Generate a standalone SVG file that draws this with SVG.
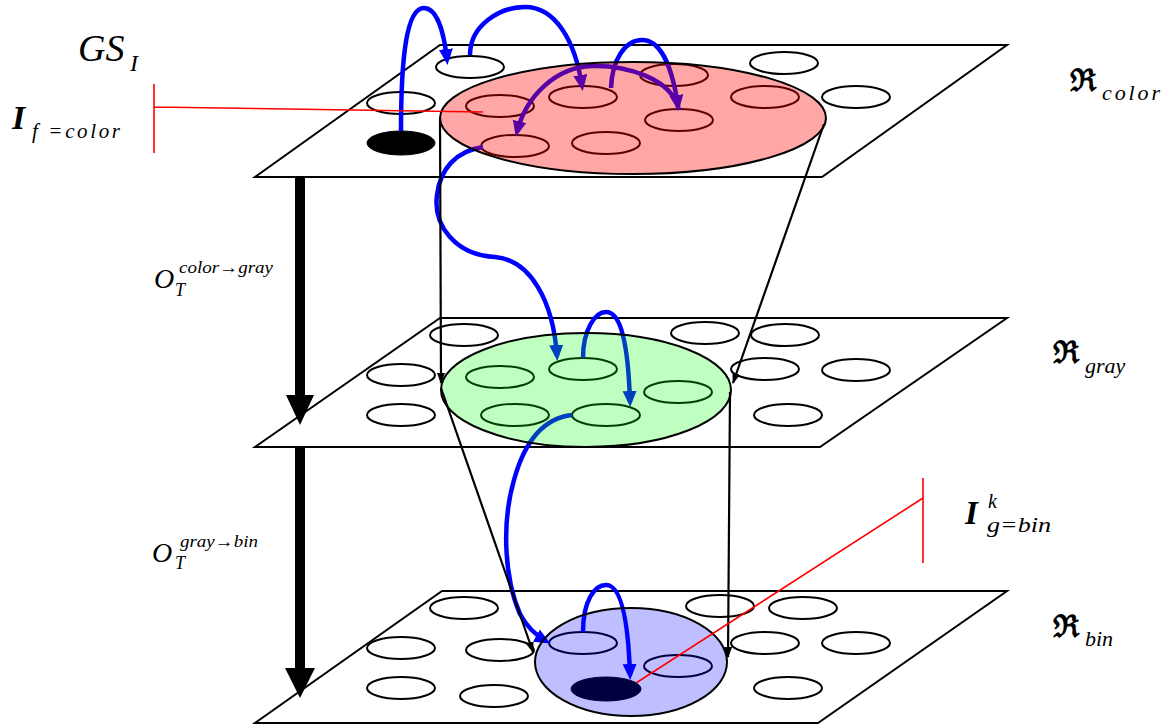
<svg xmlns="http://www.w3.org/2000/svg" width="1171" height="726" viewBox="0 0 1171 726">
  <style>
    .plane { fill: #fff; stroke: #000; stroke-width: 2; stroke-linejoin: miter; }
    .cell { fill: #fff; stroke: #000; stroke-width: 2; }
    .seed { fill: #000; stroke: #000; stroke-width: 1; }
    .flow { fill: none; stroke: #00f; stroke-width: 4.5; marker-end: url(#blueHead); }
    .region { stroke: #000; stroke-width: 2; }
    .r-color { fill: #f00; fill-opacity: 0.35; }
    .r-gray { fill: #0f0; fill-opacity: 0.25; }
    .r-bin { fill: #00f; fill-opacity: 0.25; }
    .cone { fill: none; stroke: #000; stroke-width: 2.2; marker-end: url(#blackHead); }
    .probe { fill: none; stroke: #f00; stroke-width: 1.6; }
    .op { fill: #000; stroke: none; }
    .t { font-family: "Liberation Serif", "Times New Roman", serif; font-style: italic; fill: #000; }
    .tb { font-family: "Liberation Serif", "Times New Roman", serif; font-style: italic; font-weight: bold; fill: #000; }
    .frak { font-family: "DejaVu Serif", "Liberation Serif", serif; font-weight: bold; fill: #000; }
  </style>
  <defs>
    <marker id="blueHead" markerUnits="userSpaceOnUse" markerWidth="18" markerHeight="16" refX="11" refY="7" orient="auto">
      <path d="M0,0 L16,7 L0,14 z" fill="#00f"/>
    </marker>
    <marker id="blackHead" markerUnits="userSpaceOnUse" markerWidth="12" markerHeight="10" refX="10" refY="4" orient="auto">
      <path d="M0,0 L11,4 L0,8 z" fill="#000"/>
    </marker>
  </defs>

  <!-- colour layer -->
  <g id="layer-color">
    <polygon class="plane" points="440,45 1007,45 822,177 255,177"/>
    <ellipse class="cell" cx="470" cy="67" rx="34" ry="11"/>
    <ellipse class="cell" cx="401" cy="103" rx="34" ry="11"/>
    <ellipse class="seed" cx="401" cy="143" rx="34" ry="12"/>
    <ellipse class="cell" cx="784" cy="63" rx="34" ry="11"/>
    <ellipse class="cell" cx="856" cy="97" rx="34" ry="11"/>
    <ellipse class="cell" cx="500" cy="106" rx="34" ry="11"/>
    <ellipse class="cell" cx="583" cy="97" rx="34" ry="11"/>
    <ellipse class="cell" cx="674" cy="75" rx="34" ry="11"/>
    <ellipse class="cell" cx="765" cy="97" rx="34" ry="11"/>
    <ellipse class="cell" cx="679" cy="120" rx="34" ry="11"/>
    <ellipse class="cell" cx="515" cy="146" rx="34" ry="11"/>
    <ellipse class="cell" cx="606" cy="143" rx="34" ry="11"/>
  </g>

  <!-- gray layer -->
  <g id="layer-gray">
    <polygon class="plane" points="440,318 1007,318 820,447 255,447"/>
    <ellipse class="cell" cx="464" cy="335" rx="34" ry="11"/>
    <ellipse class="cell" cx="401" cy="375" rx="34" ry="11"/>
    <ellipse class="cell" cx="401" cy="415" rx="34" ry="11"/>
    <ellipse class="cell" cx="705" cy="333" rx="34" ry="11"/>
    <ellipse class="cell" cx="785" cy="335" rx="34" ry="11"/>
    <ellipse class="cell" cx="765" cy="369" rx="34" ry="11"/>
    <ellipse class="cell" cx="856" cy="370" rx="34" ry="11"/>
    <ellipse class="cell" cx="788" cy="415" rx="34" ry="11"/>
    <ellipse class="cell" cx="500" cy="377" rx="34" ry="11"/>
    <ellipse class="cell" cx="583" cy="369" rx="34" ry="11"/>
    <ellipse class="cell" cx="678" cy="392" rx="34" ry="11"/>
    <ellipse class="cell" cx="515" cy="415" rx="34" ry="11"/>
    <ellipse class="cell" cx="606" cy="415" rx="34" ry="11"/>
  </g>

  <!-- binary layer -->
  <g id="layer-bin">
    <polygon class="plane" points="442,591 1007,591 818,723 255,723"/>
    <ellipse class="cell" cx="464" cy="608" rx="34" ry="11"/>
    <ellipse class="cell" cx="401" cy="648" rx="34" ry="11"/>
    <ellipse class="cell" cx="401" cy="688" rx="34" ry="11"/>
    <ellipse class="cell" cx="500" cy="650" rx="34" ry="11"/>
    <ellipse class="cell" cx="494" cy="696" rx="34" ry="11"/>
    <ellipse class="cell" cx="720" cy="606" rx="34" ry="11"/>
    <ellipse class="cell" cx="803" cy="608" rx="34" ry="11"/>
    <ellipse class="cell" cx="765" cy="643" rx="34" ry="11"/>
    <ellipse class="cell" cx="856" cy="643" rx="34" ry="11"/>
    <ellipse class="cell" cx="788" cy="688" rx="34" ry="11"/>
    <ellipse class="cell" cx="583" cy="643" rx="34" ry="11"/>
    <ellipse class="cell" cx="678" cy="666" rx="34" ry="11"/>
    <ellipse class="seed" cx="606" cy="689" rx="35" ry="12"/>
  </g>

  <!-- traversal arrows between cells -->
  <g id="connectors">
    <path class="flow" d="M401,131 C401,60 406,8 424,8 C437,8 444,32 447,60"/>
    <path class="flow" d="M470,55 C470,25 500,7 525,7 C555,7 575,40 582,86"/>
    <path class="flow" d="M611,88 C612,60 625,40 642,40 C660,40 672,65 678,106"/>
    <path class="flow" d="M679,110 C672,78 625,65 592,66 C556,67 526,96 517,132"/>
    <path class="flow" d="M483,147 C455,151 440,170 437,195 C433,225 455,255 495,257 C530,260 553,300 557,356"/>
    <path class="flow" d="M583,358 C583,330 595,312 606,312 C620,312 628,340 630,402"/>
    <path class="flow" d="M572,415 C545,418 525,440 514,480 C501,525 505,580 520,614 C528,629 537,636 546,641"/>
    <path class="flow" d="M583,632 C583,600 595,585 606,585 C620,585 628,615 630,675"/>
  </g>

  <!-- selected regions, translucent over the cells -->
  <g id="region-color">
    <ellipse class="region r-color" cx="633" cy="118" rx="193" ry="56"/>
  </g>
  <g id="region-gray">
    <ellipse class="region r-gray" cx="586" cy="390" rx="145" ry="57"/>
  </g>
  <g id="region-bin">
    <ellipse class="region r-bin" cx="631" cy="662" rx="96" ry="54"/>
  </g>

  <!-- projection lines between regions -->
  <g id="projections">
    <path class="cone" d="M440,118 L441,383"/>
    <path class="cone" d="M824,124 L733,383"/>
    <path class="cone" d="M441,388 L533,652"/>
    <path class="cone" d="M730,392 L728,657"/>
  </g>

  <!-- probes -->
  <g id="probe-color">
    <path class="probe" d="M154,84 L154,153 M154,107 L483,112"/>
  </g>
  <g id="probe-bin">
    <path class="probe" d="M923,478 L923,563 M636,683 L923,498"/>
  </g>

  <!-- transformation operators -->
  <g id="op-color-gray">
    <rect class="op" x="295" y="176" width="10" height="221"/>
    <polygon class="op" points="286,395 314,395 300,425"/>
  </g>
  <g id="op-gray-bin">
    <rect class="op" x="295" y="448" width="10" height="222"/>
    <polygon class="op" points="285,668 315,668 300,698"/>
  </g>

  <!-- labels -->
  <g id="labels">
    <text class="t" x="78" y="61" font-size="38">GS</text>
    <text class="t" x="130" y="71" font-size="24">I</text>

    <text class="tb" x="12" y="129" font-size="34">I</text>
    <text class="t" x="32" y="138" font-size="21" textLength="88" lengthAdjust="spacing">f =color</text>

    <text class="frak" x="1070" y="91" font-size="31">ℜ</text>
    <text class="t" x="1102" y="100" font-size="22" textLength="58" lengthAdjust="spacing">color</text>

    <text class="frak" x="1053" y="363" font-size="31">ℜ</text>
    <text class="t" x="1085" y="373" font-size="22">gray</text>

    <text class="frak" x="1053" y="637" font-size="31">ℜ</text>
    <text class="t" x="1085" y="646" font-size="22">bin</text>

    <text class="tb" x="965" y="524" font-size="33">I</text>
    <text class="t" x="988" y="508" font-size="20">k</text>
    <text class="t" x="987" y="532" font-size="22" textLength="64" lengthAdjust="spacingAndGlyphs">g=bin</text>

    <text class="t" x="154" y="288" font-size="28">O</text>
    <text class="t" x="175" y="296" font-size="18">T</text>
    <text class="t" x="179" y="273" font-size="17" textLength="94" lengthAdjust="spacingAndGlyphs">color→gray</text>

    <text class="t" x="152" y="562" font-size="28">O</text>
    <text class="t" x="175" y="569" font-size="18">T</text>
    <text class="t" x="180" y="547" font-size="17" textLength="78" lengthAdjust="spacingAndGlyphs">gray→bin</text>
  </g>
</svg>
